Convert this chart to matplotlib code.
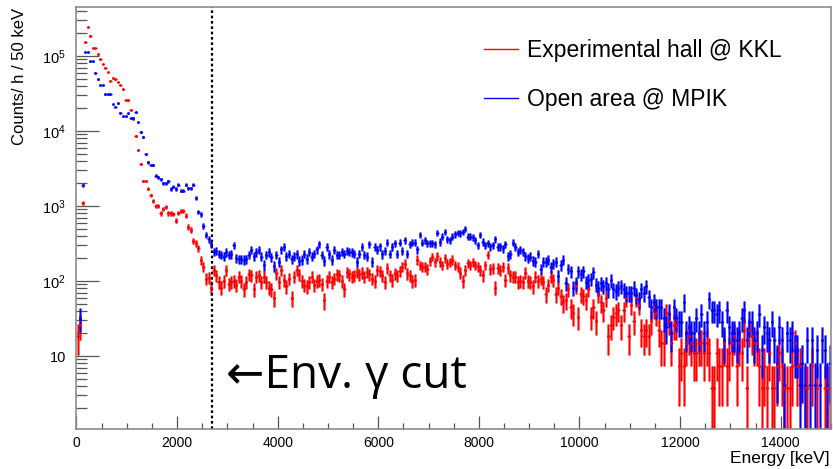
import numpy as np
import matplotlib
matplotlib.use('Agg')
import matplotlib.pyplot as plt
from matplotlib.ticker import MultipleLocator, LogLocator, FuncFormatter, NullFormatter
from matplotlib.lines import Line2D

plt.rcParams['font.family'] = ['Liberation Sans', 'DejaVu Sans']

# spectrum binning and live times
bin_width = 50.0      # keV
e_max = 15000.0       # keV
live_h_kkl = 0.27     # h
live_h_mpik = 0.2457  # h
gamma_cut = 2700.0    # keV

labels = ['Experimental hall @ KKL', 'Open area @ MPIK']

# count rates [counts/h per 50 keV], one entry per bin starting at 0 keV
rate_kkl = [
    18.5, 25.9, 1107, 1.52e5, 2.42e5, 1.87e5, 1.27e5, 1.27e5, 1.05e5, 9.0e4,
    7.8e4, 7.0e4, 6.1e4, 4.7e4, 5.1e4, 4.9e4, 4.5e4, 4.1e4, 3.6e4, 2.56e4,
    2.56e4, 1.92e4, 1.45e4, 8.6e3, 5.6e3, 3.6e3, 2.15e3, 2.15e3, 1.70e3, 1.39e3,
    1.17e3, 1.0e3, 1.0e3, 800, 921, 970, 795, 795, 780, 637,
    807, 858, 858, 743, 530, 479, 345, 318, 273, 190,
    156, 109, 110, 81, 140, 120, 98, 82, 101, 140,
    93, 98, 101, 88, 114, 101, 77, 98, 124, 120,
    76, 113, 117, 98, 113, 98, 82, 76, 60, 126,
    98, 140, 103, 86, 106, 60, 113, 140, 124, 101,
    88, 84, 98, 113, 88, 101, 103, 93, 57, 101,
    113, 95, 106, 124, 117, 101, 76, 133, 124, 114,
    117, 133, 124, 129, 114, 133, 124, 106, 101, 140,
    138, 117, 98, 148, 117, 103, 126, 117, 138, 155,
    172, 126, 117, 100, 103, 191, 163, 155, 155, 145,
    187, 211, 178, 214, 181, 163, 202, 172, 178, 191,
    163, 155, 129, 101, 140, 175, 163, 178, 163, 155,
    140, 120, 163, 222, 145, 148, 82, 148, 140, 155,
    105, 148, 120, 114, 113, 98, 101, 98, 129, 101,
    95, 84, 113, 101, 106, 98, 67, 88, 113, 103,
    66, 82, 62, 50, 54, 76, 45, 37, 84, 33,
    66, 62, 54, 77, 33, 44, 30, 66, 53, 41,
    59, 19, 26, 35, 37, 41, 27, 40, 59, 19,
    48, 29, 59, 48, 22, 19, 21, 19, 29, 45,
    37, 22, 16, 16, 37, 30, 16, 25, 27, 7.4,
    12, 7.4, 13, 19, 16, 11, 12, 13, 16, 11,
    14, 11, 3.7, 3.7, 11.1, 7.4, 7.4, 14.8, 7.4, 11.1,
    14.8, 18.5, 7.4, 14.8, 11.1, 22.2, 3.7, 22.2, 18.5, 14.8,
    14.8, 7.4, 3.7, 7.4, 3.7, 11.1, 3.7, 3.7, 7.4, 11.1,
    7.4, 3.7, 3.7, 3.7, 7.4, 14.8, 7.4, 7.4, 0, 3.7,
    3.7, 0, 7.4, 0, 3.7, 0, 0, 3.7, 3.7, 3.7,
]

rate_mpik = [
    0, 32.6, 1900, 1.14e5, 1.14e5, 8.5e4, 8.5e4, 6.0e4, 4.9e4, 4.1e4,
    4.1e4, 3.08e4, 3.08e4, 3.08e4, 2.29e4, 2.11e4, 2.34e4, 1.75e4, 1.58e4, 1.58e4,
    1.72e4, 1.48e4, 1.5e4, 1.77e4, 1.31e4, 9.7e3, 8.3e3, 4.9e3, 3.8e3, 3.5e3,
    3.5e3, 2.54e3, 2.41e3, 2.27e3, 2.01e3, 2.01e3, 2.15e3, 1.69e3, 1.81e3, 1.69e3,
    1.91e3, 1.6e3, 1.6e3, 1.91e3, 1.72e3, 1.72e3, 1.91e3, 1.29e3, 840, 775,
    546, 410, 363, 308, 246, 251, 234, 222, 211, 239,
    222, 228, 302, 205, 195, 195, 190, 195, 222, 259,
    214, 239, 259, 211, 163, 222, 239, 207, 158, 222,
    181, 264, 286, 214, 234, 195, 211, 228, 187, 190,
    234, 200, 246, 211, 234, 264, 311, 222, 187, 286,
    228, 190, 259, 222, 222, 246, 234, 251, 246, 239,
    234, 181, 234, 286, 222, 211, 308, 181, 286, 259,
    291, 228, 251, 324, 234, 286, 318, 234, 324, 251,
    352, 234, 308, 327, 324, 264, 410, 327, 352, 318,
    318, 318, 311, 441, 333, 389, 454, 359, 352, 389,
    420, 441, 430, 454, 489, 390, 389, 382, 352, 302,
    410, 333, 302, 318, 291, 302, 359, 286, 291, 271,
    311, 215, 228, 324, 286, 246, 259, 246, 215, 202,
    211, 187, 178, 234, 148, 181, 178, 191, 155, 172,
    181, 117, 163, 191, 93, 148, 133, 82, 93, 133,
    124, 133, 98, 101, 106, 129, 88, 82, 93, 84,
    93, 76, 101, 78, 72, 80, 84, 76, 69, 68,
    68, 80, 65, 59, 76, 69, 86, 62, 45, 53,
    45, 45, 45, 33, 25, 37, 21, 43, 33, 29,
    27, 53, 22, 25, 19, 19, 31, 21, 37, 19,
    30, 59, 41, 40.7, 36.6, 40.7, 28.5, 16.3, 40.7, 24.4,
    20.4, 20.4, 16.3, 20.4, 32.6, 40.7, 16.3, 28.5, 28.5, 16.3,
    20.4, 36.6, 12.2, 24.4, 20.4, 16.3, 28.5, 16.3, 8.1, 24.4,
    16.3, 4.1, 20.4, 16.3, 20.4, 12.2, 12.2, 4.1, 8.1, 4.1,
    16.3, 4.1, 16.3, 4.1, 12.2, 4.1, 16.3, 12.2, 4.1, 8.1,
]


def spectrum(rates, live_h):
    # back to raw counts for Poisson errors, empty bins are skipped
    counts = np.round(np.asarray(rates, dtype=float) * live_h)
    centers = (np.arange(len(counts)) + 0.5) * bin_width
    keep = counts > 0
    return centers[keep], counts[keep] / live_h, np.sqrt(counts[keep]) / live_h


fig = plt.figure(figsize=(8.33, 4.69), dpi=100)
ax = fig.add_axes([0.0918, 0.0853, 0.9058, 0.8998])
ax.set_yscale('log', nonpositive='clip')

for rates, live, col in [(rate_kkl, live_h_kkl, '#ff0000'), (rate_mpik, live_h_mpik, '#0000ff')]:
    x, y, err = spectrum(rates, live)
    ax.errorbar(x, y, yerr=err, fmt='none', ecolor=col, elinewidth=2.0, alpha=0.6)
    ax.errorbar(x, y, xerr=bin_width / 2, fmt='o', ms=2.0, mew=0, color=col,
                ecolor=col, elinewidth=1.0)
    ax.errorbar(x, y, yerr=err, fmt='none', ecolor=col, elinewidth=0.8)

ax.axvline(gamma_cut, color='black', ls=(0, (1.2, 1.2)), lw=1.6)

ax.set_xlim(0, e_max)
ax.set_ylim(1.064, 4.5e5)

# ROOT-like axes: inward ticks, grey frame
for s in ax.spines.values():
    s.set_color('#8c8c8c')
    s.set_linewidth(1.2)

ax.xaxis.set_major_locator(MultipleLocator(2000))
ax.xaxis.set_minor_locator(MultipleLocator(500))
ax.yaxis.set_major_locator(LogLocator(base=10, numticks=10))
ax.yaxis.set_minor_locator(LogLocator(base=10, subs=np.arange(2, 10), numticks=20))


def log_label(v, pos):
    p = int(round(np.log10(v)))
    if p == 1:
        return '10'
    return r'$\mathregular{10^{%d}}$' % p


ax.yaxis.set_major_formatter(FuncFormatter(log_label))
ax.yaxis.set_minor_formatter(NullFormatter())

ax.tick_params(axis='x', which='major', direction='in', length=9.1, width=0.9,
               color='#555555', labelsize=10, pad=5.0, top=False)
ax.tick_params(axis='x', which='minor', direction='in', length=4.6, width=0.9,
               color='#555555', top=False)
ax.tick_params(axis='y', which='major', direction='in', length=16.3, width=0.9,
               color='#555555', labelsize=10.5, pad=7.5, right=False)
ax.tick_params(axis='y', which='minor', direction='in', length=8.2, width=0.9,
               color='#555555', right=False)

fig.text(20 / 833, 1 - 8 / 469, 'Counts/ h / 50 keV', rotation=90,
         ha='center', va='top', fontsize=12)
fig.text(830 / 833, 1 - 458 / 469, 'Energy [keV]', ha='right', va='center', fontsize=12.5)

handles = [Line2D([], [], color='#ff0000', lw=1.0), Line2D([], [], color='#0000ff', lw=1.0)]
ax.legend(handles, labels, loc='upper left', bbox_to_anchor=(0.540, 0.923),
          frameon=False, fontsize=16.5, handlelength=1.48, handletextpad=0.4,
          labelspacing=1.1, borderpad=0, borderaxespad=0)

fig.text(226 / 833, 1 - 376 / 469, '\u2190Env. \u03b3 cut', ha='left', va='center',
         fontsize=33, family=['Open Sans', 'DejaVu Sans'])

fig.savefig('out.png', dpi=100)
